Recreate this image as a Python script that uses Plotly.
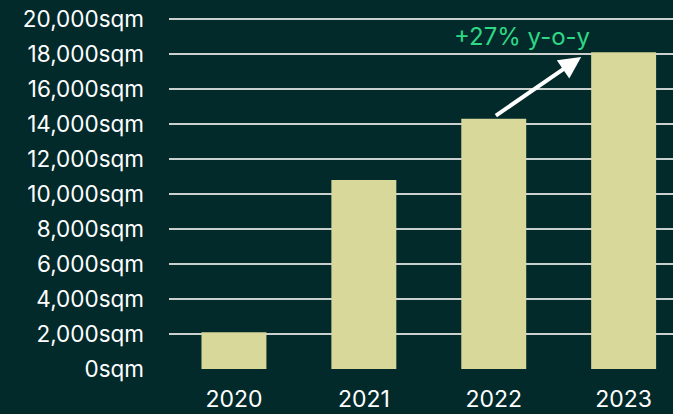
import plotly.graph_objects as go

years = ["2020", "2021", "2022", "2023"]
area_sqm = [2100, 10800, 14300, 18100]
y_ticks = [0, 2000, 4000, 6000, 8000, 10000, 12000, 14000, 16000, 18000, 20000]
y_tick_labels = [f"{v:,}sqm" for v in y_ticks]
growth_label = "+27% y-o-y"

BG = "#022a2b"
BAR = "#d8d89b"
GRID = "#c9d0cd"
GREEN = "#2fd885"

fig = go.Figure(
    go.Bar(
        x=years,
        y=area_sqm,
        marker=dict(color=BAR, line=dict(width=0)),
        width=0.5,
    )
)

fig.add_annotation(
    x=2.673, y=17830, xref="x", yref="y",
    ax=2.005, ay=14420, axref="x", ayref="y",
    text="", showarrow=True,
    arrowhead=2, arrowsize=1.1, arrowwidth=4, arrowcolor="#ffffff",
)
fig.add_annotation(
    x=2.215, y=19000, xref="x", yref="y",
    text=growth_label, showarrow=False,
    font=dict(family="Inter", size=24, color=GREEN),
)

fig.update_layout(
    width=673, height=414,
    margin=dict(l=169, r=0, t=16, b=45),
    paper_bgcolor=BG, plot_bgcolor=BG,
    showlegend=False,
    font=dict(family="Inter", size=22, color="#ffffff"),
    bargap=0.5,
)
fig.update_xaxes(
    range=[-0.5, 3.38], showgrid=False, zeroline=False, showline=False,
    ticks="", ticklabelstandoff=14, tickfont=dict(size=23), automargin=False,
)
fig.update_yaxes(
    range=[0, 20171], tickvals=y_ticks, ticktext=y_tick_labels,
    showgrid=True, gridcolor=GRID, gridwidth=2, zeroline=False,
    showline=False, ticks="", ticklabelstandoff=24, tickfont=dict(size=22.5),
    automargin=False,
)

fig.write_html("out.html")
